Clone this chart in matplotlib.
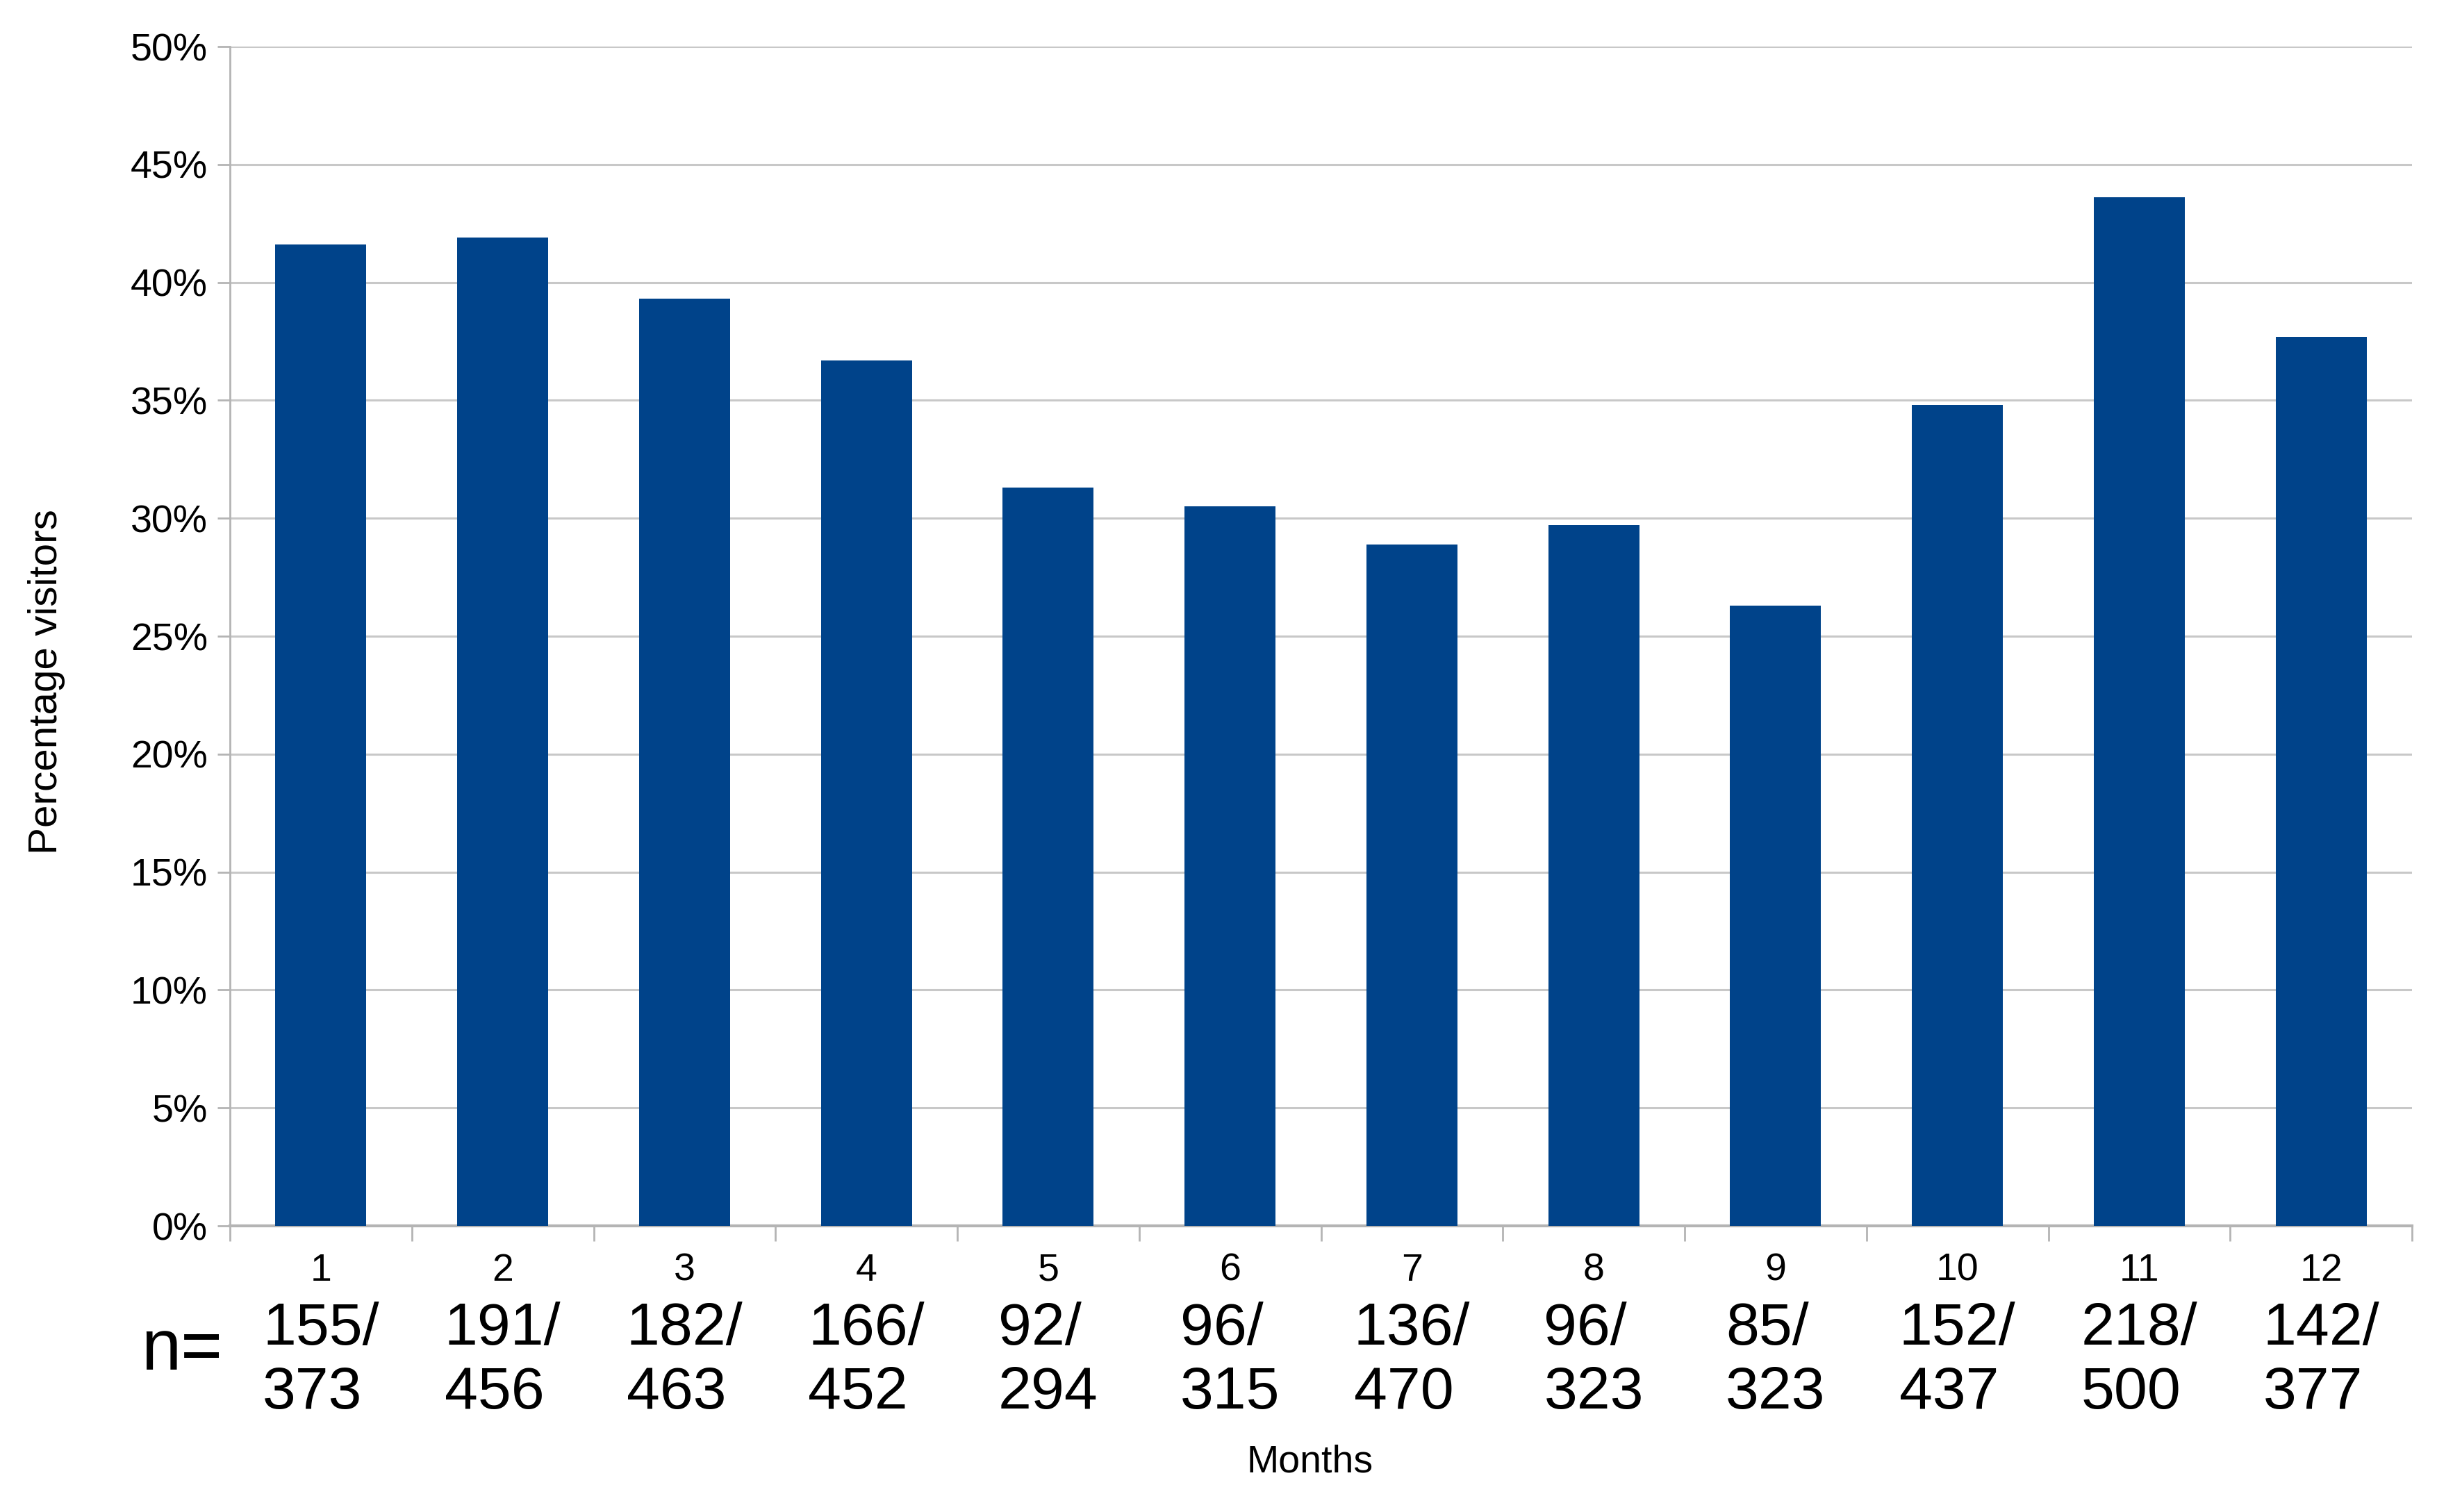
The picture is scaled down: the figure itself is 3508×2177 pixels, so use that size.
import matplotlib
matplotlib.use('Agg')
import matplotlib.pyplot as plt
import matplotlib.transforms as mtransforms
import numpy as np

# Percentage of visitors per month
months = ['1', '2', '3', '4', '5', '6', '7', '8', '9', '10', '11', '12']
pct_visitors = [41.6, 41.9, 39.3, 36.7, 31.3, 30.5, 28.9, 29.7, 26.3, 34.8, 43.6, 37.7]
n_visitors = ['155/', '191/', '182/', '166/', '92/', '96/', '136/', '96/', '85/', '152/', '218/', '142/']
n_total = ['373', '456', '463', '452', '294', '315', '470', '323', '323', '437', '500', '377']
y_ticks = [0, 5, 10, 15, 20, 25, 30, 35, 40, 45, 50]

plt.rcParams['font.family'] = ['Liberation Sans', 'DejaVu Sans']

W, H = 3508, 2177
fig = plt.figure(figsize=(W / 100, H / 100), dpi=100)
ax = fig.add_axes([331 / W, 1 - 1765 / H, (3472 - 331) / W, (1765 - 67) / H])

x = np.arange(len(months))
ax.bar(x, pct_visitors, width=0.5, color='#00438a', zorder=3)

ax.set_xlim(-0.5, len(months) - 0.5)
ax.set_ylim(0, 50)
ax.set_yticks(y_ticks)
ax.set_yticklabels([f'{t}%' for t in y_ticks])
ax.yaxis.grid(True, color='#c8c8c8', linewidth=2.2, zorder=0)

for side in ['top', 'right']:
    ax.spines[side].set_visible(False)
ax.spines['left'].set_color('#b4b4b4')
ax.spines['left'].set_linewidth(2)
ax.spines['bottom'].set_color('#b4b4b4')
ax.spines['bottom'].set_linewidth(3)

ax.tick_params(axis='y', length=13, width=2, color='#b4b4b4', pad=10, labelsize=40)
ax.set_xticks(x)
ax.set_xticklabels(months)
ax.tick_params(axis='x', which='major', length=0, pad=28, labelsize=40)
ax.set_xticks(np.arange(-0.5, len(months), 1), minor=True)
ax.tick_params(axis='x', which='minor', length=16, width=2, color='#b4b4b4')

# n labels under each month
trans = mtransforms.blended_transform_factory(ax.transData, fig.transFigure)
for i in range(len(months)):
    ax.text(x[i], 1 - 1960 / H, n_visitors[i] + '\n' + n_total[i],
            transform=trans, ha='center', va='center', multialignment='left',
            fontsize=62, linespacing=1.2)

fig.text(262 / W, 1 - 1946 / H, 'n=', ha='center', va='center', fontsize=74)
fig.text(1886 / W, 1 - 2105 / H, 'Months', ha='center', va='center', fontsize=40)
fig.text(67 / W, 1 - 982 / H, 'Percentage visitors', ha='center', va='center',
         rotation=90, fontsize=42)

plt.savefig('out.png', dpi=100, facecolor='white')
